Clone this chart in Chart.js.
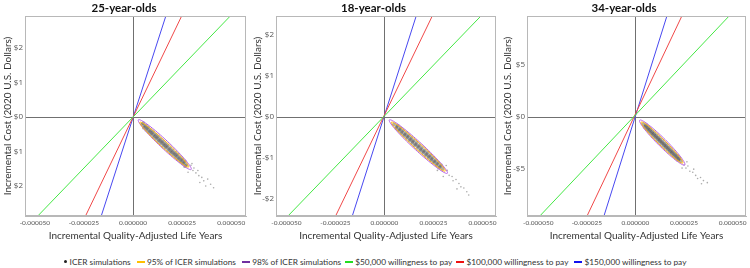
<!DOCTYPE html>
<html>
<head>
<meta charset="utf-8">
<script src="https://cdn.jsdelivr.net/npm/chart.js@4/dist/chart.umd.min.js"></script>
<style>
  html,body{margin:0;padding:0;background:#fff;width:750px;height:268px;overflow:hidden;font-family:Lato,sans-serif;}
  .pane{position:absolute;top:0;width:250px;height:245px;}
  #legend{position:absolute;left:0;top:256px;width:750px;text-align:center;font-size:8.3px;color:#333;white-space:nowrap;font-family:Lato,sans-serif;}
  #legend span.item{display:inline-block;margin:0 1px;vertical-align:middle;}
  #legend i{display:inline-block;width:8px;height:2.5px;vertical-align:middle;margin-right:2px;position:relative;top:-1px;}
  #legend b{display:inline-block;width:3px;height:3px;border-radius:50%;background:#222;vertical-align:middle;margin-right:3px;position:relative;top:-1px;}
</style>
</head>
<body>
<div class="pane" style="left:0"><canvas id="c1" width="250" height="245"></canvas></div>
<div class="pane" style="left:250px"><canvas id="c2" width="250" height="245"></canvas></div>
<div class="pane" style="left:500px"><canvas id="c3" width="250" height="245"></canvas></div>
<div id="legend">
  <span class="item"><b></b>ICER simulations&nbsp;</span>
  <span class="item"><i style="background:#ffc000"></i>95% of ICER simulations&nbsp;</span>
  <span class="item"><i style="background:#7030a0"></i>98% of ICER simulations</span>
  <span class="item"><i style="background:#22dd22"></i>$50,000 willingness to pay</span>
  <span class="item"><i style="background:#ee1111"></i>$100,000 willingness to pay&nbsp;</span>
  <span class="item"><i style="background:#1111ee"></i>$150,000 willingness to pay</span>
</div>
<script>
// x values are in millionths of a QALY (µQALY); y values in 2020 U.S. dollars
const panelTitles = ["25-year-olds", "18-year-olds", "34-year-olds"];
const xTickValues = [-50, -25, 0, 25, 50];
const xTickLabels = ["-0.000050", "-0.000025", "0.000000", "0.000025", "0.000050"];

const yTickValues1 = [-2, -1, 0, 1, 2];
const yTickLabels1 = ["$2", "$1", "$0", "$1", "$2"];
const yTickValues2 = [-2, -1, 0, 1, 2];
const yTickLabels2 = ["-$2", "-$1", "$0", "$1", "$2"];
const yTickValues3 = [-5, 0, 5];
const yTickLabels3 = ["-$5", "$0", "$5"];

const xRange1 = [-55, 57.5];   const yRange1 = [-2.87, 2.93];
const xRange2 = [-55.3, 56.9]; const yRange2 = [-2.41, 2.46];
const xRange3 = [-55.8, 56.9]; const yRange3 = [-9.5, 9.7];

// willingness-to-pay lines (endpoints)
const green1 = [[-48.5, -2.87], [49.5, 2.93]];
const red1   = [[-24.2, -2.87], [24.75, 2.93]];
const blue1  = [[-16.2, -2.87], [16.7, 2.93]];
const green2 = [[-49.2, -2.41], [49.2, 2.46]];
const red2   = [[-24.9, -2.41], [24.4, 2.46]];
const blue2  = [[-16.4, -2.41], [16.2, 2.46]];
const green3 = [[-49.2, -9.5], [48.2, 9.7]];
const red3   = [[-24.9, -9.5], [23.9, 9.7]];
const blue3  = [[-16.2, -9.5], [16.2, 9.7]];

// confidence ellipses: [center, major-axis tip, minor-axis tip]
const ell98_1 = [[16.15, -0.80], [29.6, -1.52], [14.71, -0.8895]];
const ell95_1 = [[15.9, -0.80], [28.3, -1.45], [14.8, -0.868]];
const ell98_2 = [[17.3, -0.72], [32.1, -1.37], [15.86, -0.7956]];
const ell95_2 = [[17.3, -0.72], [31.0, -1.317], [16.2, -0.778]];
const ell98_3 = [[13.8, -2.45], [25.4, -4.6], [12.31, -2.738]];
const ell95_3 = [[13.7, -2.45], [24.4, -4.42], [12.56, -2.669]];

// ICER simulations
const sims1 = [
 [4.7,-0.21],[6.0,-0.28],[7.2,-0.34],[8.5,-0.41],[9.7,-0.47],[11.0,-0.54],[12.2,-0.60],[13.4,-0.67],[14.7,-0.73],[15.9,-0.80],
 [17.1,-0.86],[18.4,-0.93],[19.6,-1.00],[20.9,-1.06],[22.1,-1.12],[23.3,-1.19],[24.6,-1.25],[25.8,-1.32],[27.1,-1.39],
 [5.2,-0.18],[6.5,-0.25],[7.7,-0.31],[9.0,-0.38],[10.2,-0.44],[11.5,-0.51],[12.7,-0.57],[13.9,-0.64],[15.2,-0.70],[16.4,-0.77],
 [17.6,-0.83],[18.9,-0.90],[20.1,-0.97],[21.4,-1.03],[22.6,-1.09],[23.8,-1.16],[25.1,-1.22],[26.3,-1.29],
 [5.5,-0.31],[6.7,-0.37],[8.0,-0.44],[9.2,-0.50],[10.5,-0.57],[11.7,-0.63],[12.9,-0.70],[14.2,-0.76],[15.4,-0.83],[16.6,-0.89],
 [17.9,-0.96],[19.1,-1.03],[20.4,-1.09],[21.6,-1.15],[22.8,-1.22],[24.1,-1.28],[25.3,-1.35],[26.6,-1.42]
];
const tail1 = [[29.5,-1.40],[30.5,-1.55],[31,-1.48],[32,-1.62],[33.5,-1.70],[35,-1.75],[36,-1.85],[38,-1.80],[39.5,-1.95],
 [41,-2.05],[34,-1.90],[37,-2.0],[28,-1.60],[30,-1.35],[26,-1.45],[33,-1.55]];

const sims2 = [
 [4.9,-0.18],[6.3,-0.24],[7.7,-0.30],[9.0,-0.36],[10.4,-0.42],[11.8,-0.48],[13.2,-0.54],[14.5,-0.60],[15.9,-0.66],[17.3,-0.72],
 [18.6,-0.78],[20.0,-0.84],[21.4,-0.90],[22.8,-0.96],[24.1,-1.02],[25.5,-1.08],[26.9,-1.14],[28.3,-1.20],[29.6,-1.26],
 [6.8,-0.21],[8.2,-0.27],[9.5,-0.33],[10.9,-0.39],[12.3,-0.45],[13.7,-0.51],[15.0,-0.57],[16.4,-0.63],[17.8,-0.69],[19.1,-0.75],
 [20.5,-0.81],[21.9,-0.87],[23.3,-0.93],[24.6,-0.99],[26.0,-1.05],[27.4,-1.11],[28.8,-1.17],
 [6.0,-0.27],[7.4,-0.33],[8.7,-0.39],[10.1,-0.45],[11.5,-0.51],[12.9,-0.57],[14.2,-0.63],[15.6,-0.69],[17.0,-0.75],[18.3,-0.81],
 [19.7,-0.87],[21.1,-0.93],[22.5,-0.99],[23.8,-1.05],[25.2,-1.11],[26.6,-1.17],[28.0,-1.23]
];
const tail2 = [[32,-1.30],[33,-1.42],[34.5,-1.45],[35,-1.55],[36.5,-1.52],[38,-1.62],[39,-1.70],[40.5,-1.73],[42,-1.82],
 [43,-1.9],[30,-1.45],[37,-1.75],[27,-1.30],[31.5,-1.18]];

const sims3 = [
 [4.1,-0.68],[5.2,-0.87],[6.3,-1.07],[7.3,-1.27],[8.4,-1.47],[9.4,-1.66],[10.5,-1.86],[11.6,-2.06],[12.6,-2.25],[13.7,-2.45],
 [14.8,-2.65],[15.8,-2.84],[16.9,-3.04],[18.0,-3.24],[19.0,-3.43],[20.1,-3.63],[21.2,-3.83],[22.3,-4.03],[23.3,-4.22],
 [5.6,-0.78],[6.7,-0.98],[7.7,-1.18],[8.8,-1.38],[9.8,-1.57],[10.9,-1.77],[12.0,-1.97],[13.0,-2.16],[14.1,-2.36],[15.2,-2.56],
 [16.2,-2.75],[17.3,-2.95],[18.4,-3.15],[19.4,-3.34],[20.5,-3.54],[21.6,-3.74],[22.7,-3.94],
 [4.8,-0.96],[5.9,-1.16],[6.9,-1.36],[8.0,-1.56],[9.0,-1.75],[10.1,-1.95],[11.2,-2.15],[12.2,-2.34],[13.3,-2.54],[14.4,-2.74],
 [15.4,-2.93],[16.5,-3.13],[17.6,-3.33],[18.6,-3.52],[19.7,-3.72],[20.8,-3.92],[21.9,-4.12]
];
const tail3 = [[25,-4.6],[26,-4.9],[27,-4.7],[28,-5.2],[29.5,-5.3],[31,-5.6],[32,-5.9],[33.5,-5.8],[35,-6.1],[37,-6.3],
 [30,-5.0],[34,-6.4],[24,-4.9],[26.5,-4.3]];

const FONT = 'Lato, sans-serif';
const pts = a => a.map(p => ({x: p[0], y: p[1]}));

const ellipsePlugin = {
  id: 'ellipses',
  afterDatasetsDraw(chart, args, opts) {
    const {ctx, scales: {x, y}, chartArea: ca} = chart;
    ctx.save();
    ctx.beginPath(); ctx.rect(ca.left, ca.top, ca.right - ca.left, ca.bottom - ca.top); ctx.clip();
    for (const e of opts.list) {
      const C = [x.getPixelForValue(e.def[0][0]), y.getPixelForValue(e.def[0][1])];
      const M = [x.getPixelForValue(e.def[1][0]), y.getPixelForValue(e.def[1][1])];
      const N = [x.getPixelForValue(e.def[2][0]), y.getPixelForValue(e.def[2][1])];
      const u = [M[0]-C[0], M[1]-C[1]], v = [N[0]-C[0], N[1]-C[1]];
      ctx.beginPath();
      for (let i = 0; i <= 96; i++) {
        const t = i / 96 * Math.PI * 2;
        const px = C[0] + u[0]*Math.cos(t) + v[0]*Math.sin(t);
        const py = C[1] + u[1]*Math.cos(t) + v[1]*Math.sin(t);
        if (i === 0) ctx.moveTo(px, py); else ctx.lineTo(px, py);
      }
      ctx.strokeStyle = e.color; ctx.lineWidth = 1; ctx.stroke();
    }
    ctx.restore();
  }
};
const framePlugin = {
  id: 'frame',
  afterDraw(chart) {
    const {ctx, chartArea: ca} = chart;
    ctx.save(); ctx.strokeStyle = '#b8b8b8'; ctx.lineWidth = 1;
    ctx.strokeRect(Math.round(ca.left)+0.5, Math.round(ca.top)+0.5, Math.round(ca.right-ca.left)-1, Math.round(ca.bottom-ca.top)-1);
    ctx.restore();
  }
};

function makeChart(id, title, xr, yr, yTicks, yLabels, sims, tail, g, r, b, e98, e95, yWidth, padRight) {
  new Chart(document.getElementById(id), {
    type: 'scatter',
    data: {
      datasets: [
        {data: pts(g), showLine: true, borderColor: '#44e844', borderWidth: 1, pointRadius: 0},
        {data: pts(r), showLine: true, borderColor: '#f04848', borderWidth: 1, pointRadius: 0},
        {data: pts(b), showLine: true, borderColor: '#4848f0', borderWidth: 1, pointRadius: 0},
        {data: pts(tail), pointRadius: 0.8, backgroundColor: 'rgba(150,150,150,0.8)', borderWidth: 0},
        {data: pts(sims), pointRadius: 1.9, backgroundColor: 'rgba(90,90,90,0.5)', borderWidth: 0}
      ]
    },
    options: {
      responsive: false, animation: false,
      layout: {padding: {left: 0, right: padRight, top: 0, bottom: 0}},
      plugins: {
        legend: {display: false}, tooltip: {enabled: false},
        title: {display: true, text: title, color: '#111', font: {family: FONT, size: 11.5, weight: 'bold'}, padding: {top: 1, bottom: 1.2}},
        ellipses: {list: [{def: e98, color: '#b45ee6'}, {def: e95, color: '#ffb400'}]}
      },
      scales: {
        x: {
          type: 'linear', min: xr[0], max: xr[1],
          afterBuildTicks: s => { s.ticks = xTickValues.map(v => ({value: v})); },
          afterFit: s => { s.height = 29; },
          ticks: {callback: v => xTickLabels[xTickValues.indexOf(v)], color: '#555', font: {family: FONT, size: 6.5}, padding: 3, maxRotation: 0, autoSkip: false},
          grid: {color: c => c.tick && c.tick.value === 0 ? '#707070' : 'rgba(0,0,0,0)', drawTicks: false},
          border: {display: true, color: '#b8b8b8'},
          title: {display: true, text: 'Incremental Quality-Adjusted Life Years', color: '#333', font: {family: FONT, size: 10}, padding: {top: 0, bottom: 3}}
        },
        y: {
          type: 'linear', min: yr[0], max: yr[1],
          afterBuildTicks: s => { s.ticks = yTicks.map(v => ({value: v})); },
          afterFit: s => { s.width = yWidth; },
          ticks: {callback: v => yLabels[yTicks.indexOf(v)], color: '#555', font: {family: '"Open Sans", sans-serif', size: 8}, padding: 2, autoSkip: false},
          grid: {color: c => c.tick && c.tick.value === 0 ? '#707070' : 'rgba(0,0,0,0)', drawTicks: false},
          border: {display: true, color: '#b8b8b8'},
          title: {display: true, text: 'Incremental Cost (2020 U.S. Dollars)', color: '#333', font: {family: FONT, size: 10}, padding: {top: 2, bottom: 0}}
        }
      }
    },
    plugins: [ellipsePlugin, framePlugin]
  });
}

makeChart('c1', panelTitles[0], xRange1, yRange1, yTickValues1, yTickLabels1, sims1, tail1, green1, red1, blue1, ell98_1, ell95_1, 25, 2);
makeChart('c2', panelTitles[1], xRange2, yRange2, yTickValues2, yTickLabels2, sims2, tail2, green2, red2, blue2, ell98_2, ell95_2, 26, 3);
makeChart('c3', panelTitles[2], xRange3, yRange3, yTickValues3, yTickLabels3, sims3, tail3, green3, red3, blue3, ell98_3, ell95_3, 27, 2);
</script>
</body>
</html>
